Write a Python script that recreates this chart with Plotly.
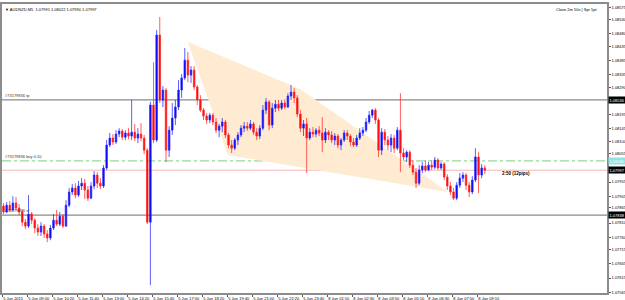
import plotly.graph_objects as go

# ---- data (10-minute candles) ----
bars = list(range(155))
opens = [1.07870, 1.07849, 1.07873, 1.07856, 1.07881, 1.07863, 1.07849, 1.07813, 1.07799, 1.07842,
         1.07820, 1.07792, 1.07778, 1.07799, 1.07771, 1.07757, 1.07792, 1.07820, 1.07806, 1.07834,
         1.07799, 1.07873, 1.07920, 1.07934, 1.07909, 1.07941, 1.07951, 1.07927, 1.07898, 1.07941,
         1.07980, 1.07951, 1.07941, 1.08005, 1.08086, 1.08111, 1.08097, 1.08125, 1.08136, 1.08114,
         1.08129, 1.08118, 1.08132, 1.08111, 1.08125, 1.08111, 1.08068, 1.07813, 1.08228, 1.08104,
         1.08476, 1.08246, 1.08281, 1.08068, 1.08139, 1.08182, 1.08221, 1.08281, 1.08324, 1.08387,
         1.08334, 1.08352, 1.08292, 1.08246, 1.08210, 1.08189, 1.08175, 1.08192, 1.08168, 1.08139,
         1.08153, 1.08168, 1.08122, 1.08086, 1.08075, 1.08104, 1.08122, 1.08146, 1.08153, 1.08146,
         1.08161, 1.08132, 1.08118, 1.08146, 1.08210, 1.08239, 1.08157, 1.08217, 1.08231, 1.08217,
         1.08235, 1.08221, 1.08260, 1.08274, 1.08253, 1.08196, 1.08146, 1.08161, 1.08111, 1.08132,
         1.08125, 1.08139, 1.08129, 1.08104, 1.08132, 1.08122, 1.08104, 1.08118, 1.08086, 1.08104,
         1.08129, 1.08118, 1.08097, 1.08086, 1.08111, 1.08129, 1.08139, 1.08168, 1.08192, 1.08210,
         1.08175, 1.08068, 1.08132, 1.08104, 1.08086, 1.08111, 1.08075, 1.08139, 1.08058, 1.08044,
         1.08061, 1.08015, 1.07990, 1.07951, 1.07998, 1.08012, 1.07998, 1.08015, 1.08008, 1.08033,
         1.08005, 1.08019, 1.07973, 1.07941, 1.07920, 1.07898, 1.07944, 1.07969, 1.07980, 1.07944,
         1.07920, 1.07962, 1.08044, 1.07980, 1.08005]
highs = [1.07881, 1.07884, 1.07888, 1.07905, 1.07902, 1.07877, 1.07856, 1.07824, 1.07909, 1.07849,
         1.07827, 1.07806, 1.07813, 1.07806, 1.07785, 1.07803, 1.07842, 1.07856, 1.07849, 1.07842,
         1.07891, 1.07934, 1.07948, 1.07951, 1.07959, 1.07969, 1.07966, 1.07941, 1.07955, 1.07994,
         1.07990, 1.07969, 1.08015, 1.08104, 1.08129, 1.08125, 1.08139, 1.08146, 1.08143, 1.08139,
         1.08146, 1.08246, 1.08161, 1.08146, 1.08164, 1.08122, 1.08075, 1.08239, 1.08380, 1.08494,
         1.08540, 1.08295, 1.08288, 1.08153, 1.08235, 1.08246, 1.08316, 1.08338, 1.08430, 1.08416,
         1.08366, 1.08366, 1.08299, 1.08263, 1.08217, 1.08200, 1.08200, 1.08200, 1.08182, 1.08161,
         1.08182, 1.08175, 1.08129, 1.08104, 1.08111, 1.08132, 1.08157, 1.08168, 1.08168, 1.08175,
         1.08168, 1.08146, 1.08157, 1.08228, 1.08253, 1.08246, 1.08235, 1.08246, 1.08246, 1.08246,
         1.08249, 1.08270, 1.08299, 1.08288, 1.08263, 1.08210, 1.08175, 1.08182, 1.08146, 1.08150,
         1.08146, 1.08153, 1.08185, 1.08146, 1.08139, 1.08136, 1.08129, 1.08125, 1.08111, 1.08139,
         1.08139, 1.08125, 1.08111, 1.08122, 1.08146, 1.08150, 1.08182, 1.08207, 1.08214, 1.08217,
         1.08182, 1.08146, 1.08143, 1.08118, 1.08125, 1.08122, 1.08150, 1.08270, 1.08075, 1.08068,
         1.08068, 1.08033, 1.08005, 1.08015, 1.08026, 1.08033, 1.08026, 1.08033, 1.08044, 1.08040,
         1.08026, 1.08026, 1.07983, 1.07955, 1.07934, 1.07955, 1.07987, 1.07990, 1.07987, 1.07955,
         1.07976, 1.08075, 1.08061, 1.08019, 1.08015]
lows = [1.07842, 1.07845, 1.07849, 1.07852, 1.07856, 1.07838, 1.07799, 1.07788, 1.07792, 1.07806,
        1.07774, 1.07764, 1.07764, 1.07757, 1.07742, 1.07749, 1.07785, 1.07799, 1.07799, 1.07792,
        1.07796, 1.07866, 1.07909, 1.07898, 1.07902, 1.07927, 1.07895, 1.07888, 1.07895, 1.07930,
        1.07934, 1.07930, 1.07934, 1.07998, 1.08079, 1.08086, 1.08090, 1.08114, 1.08104, 1.08104,
        1.08107, 1.08104, 1.08100, 1.08093, 1.08100, 1.08054, 1.07806, 1.07590, 1.08093, 1.08097,
        1.08235, 1.08221, 1.08026, 1.08044, 1.08122, 1.08157, 1.08210, 1.08253, 1.08316, 1.08309,
        1.08306, 1.08281, 1.08228, 1.08203, 1.08175, 1.08161, 1.08164, 1.08157, 1.08129, 1.08114,
        1.08132, 1.08111, 1.08075, 1.08058, 1.08068, 1.08086, 1.08114, 1.08132, 1.08136, 1.08139,
        1.08122, 1.08104, 1.08107, 1.08139, 1.08196, 1.08139, 1.08146, 1.08203, 1.08207, 1.08210,
        1.08214, 1.08217, 1.08246, 1.08235, 1.08185, 1.08132, 1.08118, 1.07987, 1.08104, 1.08114,
        1.08114, 1.08118, 1.08061, 1.08093, 1.08104, 1.08093, 1.08086, 1.08075, 1.08068, 1.08097,
        1.08104, 1.08083, 1.08079, 1.08079, 1.08104, 1.08118, 1.08132, 1.08161, 1.08182, 1.08161,
        1.08044, 1.08051, 1.08086, 1.08068, 1.08061, 1.08058, 1.08068, 1.07990, 1.08033, 1.08026,
        1.08005, 1.07980, 1.07934, 1.07944, 1.07987, 1.07990, 1.07994, 1.07998, 1.08001, 1.07998,
        1.07998, 1.07962, 1.07927, 1.07909, 1.07891, 1.07891, 1.07934, 1.07955, 1.07927, 1.07902,
        1.07912, 1.07955, 1.07916, 1.07969, 1.07983]
closes = [1.07849, 1.07873, 1.07856, 1.07881, 1.07863, 1.07849, 1.07813, 1.07799, 1.07842, 1.07820,
          1.07792, 1.07778, 1.07799, 1.07771, 1.07757, 1.07792, 1.07820, 1.07806, 1.07834, 1.07799,
          1.07873, 1.07920, 1.07934, 1.07909, 1.07941, 1.07951, 1.07927, 1.07898, 1.07941, 1.07980,
          1.07951, 1.07941, 1.08005, 1.08086, 1.08111, 1.08097, 1.08125, 1.08136, 1.08114, 1.08129,
          1.08118, 1.08132, 1.08111, 1.08125, 1.08111, 1.08068, 1.07813, 1.08228, 1.08104, 1.08476,
          1.08246, 1.08281, 1.08068, 1.08139, 1.08182, 1.08221, 1.08281, 1.08324, 1.08387, 1.08334,
          1.08352, 1.08292, 1.08246, 1.08210, 1.08189, 1.08175, 1.08192, 1.08168, 1.08139, 1.08153,
          1.08168, 1.08122, 1.08086, 1.08075, 1.08104, 1.08122, 1.08146, 1.08153, 1.08146, 1.08161,
          1.08132, 1.08118, 1.08146, 1.08210, 1.08239, 1.08157, 1.08217, 1.08231, 1.08217, 1.08235,
          1.08221, 1.08260, 1.08274, 1.08253, 1.08196, 1.08146, 1.08161, 1.08111, 1.08132, 1.08125,
          1.08139, 1.08129, 1.08104, 1.08132, 1.08122, 1.08104, 1.08118, 1.08086, 1.08104, 1.08129,
          1.08118, 1.08097, 1.08086, 1.08111, 1.08129, 1.08139, 1.08168, 1.08192, 1.08210, 1.08175,
          1.08068, 1.08132, 1.08104, 1.08086, 1.08111, 1.08075, 1.08139, 1.08058, 1.08044, 1.08061,
          1.08015, 1.07990, 1.07951, 1.07998, 1.08012, 1.07998, 1.08015, 1.08008, 1.08033, 1.08005,
          1.08019, 1.07973, 1.07941, 1.07920, 1.07898, 1.07944, 1.07969, 1.07980, 1.07944, 1.07920,
          1.07962, 1.08044, 1.07980, 1.08005, 1.07997]

time_tick_bars = [0, 8, 16, 24, 32, 40, 48, 56, 64, 72, 80, 88, 96, 104, 112, 120, 128, 136, 144, 152]
time_tick_text = ["5 Jun 2015", "5 Jun 09:00", "5 Jun 10:20", "5 Jun 11:40", "5 Jun 13:00",
                  "5 Jun 14:20", "5 Jun 15:40", "5 Jun 17:00", "5 Jun 18:20", "5 Jun 19:40",
                  "5 Jun 21:00", "5 Jun 22:20", "5 Jun 23:40", "8 Jun 01:10", "8 Jun 02:30",
                  "8 Jun 03:50", "8 Jun 05:10", "8 Jun 06:30", "8 Jun 07:50", "8 Jun 09:10"]
price_ticks = [1.08575, 1.08530, 1.08480, 1.08435, 1.08385, 1.08335, 1.08290,
               1.08195, 1.08145, 1.08100, 1.08055, 1.07955, 1.07905, 1.07865,
               1.07810, 1.07760, 1.07715, 1.07665, 1.07615, 1.07565]

tp_level = 1.08246
buy_level = 1.08030
bid_level = 1.07997
sl_level = 1.07838

tri_bars = [59.0, 94.9, 142.2, 71.8]
tri_prices = [1.08451, 1.08285, 1.07920, 1.08051]

title_text = "\u25bc AUDNZD,M5  1.07991 1.08022 1.07990 1.07997"
info_text = "Close 2m 50s | Spr 5pt"
timer_text = "2:50 (12pips)"
timer_bar = 159
timer_price = 1.07987

# ---- figure ----
FONT = "Liberation Sans"
fig = go.Figure()
fig.add_trace(go.Candlestick(
    x=bars, open=opens, high=highs, low=lows, close=closes,
    increasing=dict(line=dict(color="rgba(40,40,255,0.75)", width=1), fillcolor="#0000ff"),
    decreasing=dict(line=dict(color="rgba(255,40,40,0.75)", width=1), fillcolor="#ff0000"),
    whiskerwidth=0, showlegend=False, hoverinfo="skip"))

path = "M " + " L ".join(f"{b},{p}" for b, p in zip(tri_bars, tri_prices)) + " Z"
shapes = [dict(type="path", path=path, xref="x", yref="y", fillcolor="#feebd2",
               line=dict(width=0), layer="below")]
for lvl, col, dash, w in [(tp_level, "#8a8a8a", "solid", 1.2),
                          (buy_level, "#7dcc7d", "dashdot", 1),
                          (bid_level, "#f6b8b8", "solid", 1),
                          (sl_level, "#8a8a8a", "solid", 1.2)]:
    shapes.append(dict(type="line", xref="paper", x0=0, x1=1, yref="y", y0=lvl, y1=lvl,
                       line=dict(color=col, width=w, dash=dash), layer="below"))

annotations = []
for lvl, txt in [(tp_level, "#73179836 tp"), (buy_level, "#73179836 buy 0.10"),
                 (sl_level, "#73179836 sl")]:
    annotations.append(dict(xref="paper", x=0.002, y=lvl, yref="y", xanchor="left",
                            yanchor="bottom", text=txt, showarrow=False,
                            font=dict(family=FONT, size=4, color="#333")))
for lvl, bg, fc in [(tp_level, "#000000", "#ffffff"), (buy_level, "#8fe3e3", "#ffffff"),
                    (bid_level, "#000000", "#ffffff"), (sl_level, "#000000", "#ffffff")]:
    annotations.append(dict(xref="paper", x=1.0, xshift=1, y=lvl, yref="y", xanchor="left",
                            yanchor="middle", text=f"{lvl:.5f}", showarrow=False,
                            bgcolor=bg, borderpad=0.5,
                            font=dict(family=FONT, size=4, color=fc)))
annotations.append(dict(xref="paper", yref="paper", x=0.002, y=0.997, xanchor="left",
                        yanchor="top", text=title_text, showarrow=False,
                        font=dict(family=FONT, size=4, color="#000")))
annotations.append(dict(xref="paper", yref="paper", x=0.988, y=0.997, xanchor="right",
                        yanchor="top", text=info_text, showarrow=False,
                        font=dict(family=FONT, size=4, color="#000")))
annotations.append(dict(xref="x", yref="y", x=timer_bar, y=timer_price, xanchor="left",
                        yanchor="middle", text=f"<b>{timer_text}</b>", showarrow=False,
                        font=dict(family=FONT, size=4.5, color="#000")))

fig.update_layout(
    width=625, height=300,
    margin=dict(l=2, r=18, t=4, b=7, autoexpand=False),
    paper_bgcolor="white", plot_bgcolor="white",
    shapes=shapes, annotations=annotations,
    xaxis=dict(range=[-0.48, 193.1], tickvals=[b - 0.48 for b in time_tick_bars],
               ticktext=time_tick_text, ticks="outside", ticklen=2, tickcolor="#555",
               ticklabelposition="outside right", tickangle=0, automargin=False,
               tickfont=dict(family=FONT, size=4, color="#000"),
               showgrid=False, zeroline=False, showline=True, linecolor="#8c8c8c",
               linewidth=1.5, mirror=True, rangeslider=dict(visible=False), fixedrange=True),
    yaxis=dict(side="right", range=[1.07562, 1.08586], tickvals=price_ticks,
               ticktext=[f"{v:.5f}" for v in price_ticks], ticks="outside", ticklen=2,
               tickcolor="#555", tickfont=dict(family=FONT, size=4, color="#000"),
               automargin=False,
               showgrid=False, zeroline=False, showline=True, linecolor="#8c8c8c",
               linewidth=1.5, mirror=True, fixedrange=True),
)

fig.write_html("out.html")
